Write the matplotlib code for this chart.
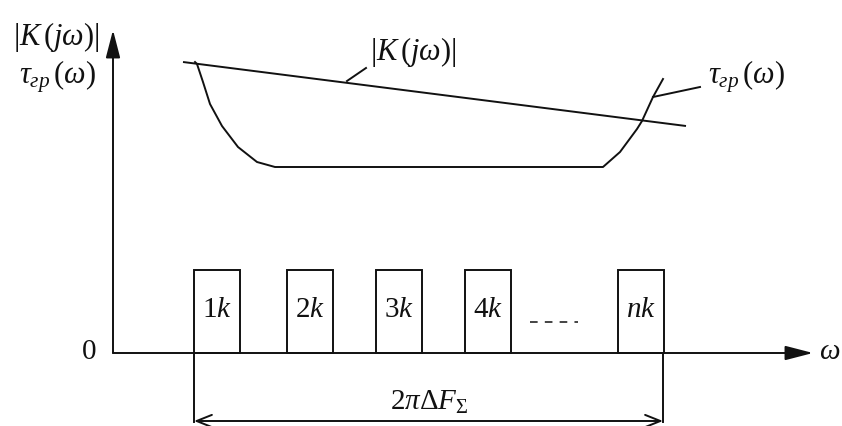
import matplotlib
matplotlib.use("Agg")
import matplotlib.pyplot as plt
from matplotlib.patches import Rectangle

plt.rcParams['font.family'] = ['Liberation Serif', 'DejaVu Serif']
plt.rcParams['mathtext.fontset'] = 'custom'
plt.rcParams['mathtext.rm'] = 'Liberation Serif'
plt.rcParams['mathtext.it'] = 'Liberation Serif:italic'
plt.rcParams['mathtext.bf'] = 'Liberation Serif:bold'

# channel boxes (left edge along omega, common width/height)
box_left = [81, 174, 263, 352, 505]
box_width = 46
box_height = 83
box_labels = [r'$1k$', r'$2k$', r'$3k$', r'$4k$', r'$nk$']

# |K(jw)| - straight falling line
k_x = [70, 573]
k_y = [291, 227]

# group delay tau(w)
tau_x = [82, 84, 90, 97, 109, 125, 144, 162, 490, 507, 524, 529, 540, 550]
tau_y = [291, 289, 271, 249, 227, 206, 191, 186, 186, 201, 224, 232, 256, 274]

# leader lines to the curve labels
k_lead_x = [234, 253]
k_lead_y = [272, 285]
tau_lead_x = [540, 587]
tau_lead_y = [256, 266]

# dots between 4k and nk
dots_x = [417, 465]
dots_y = [31, 31]

# axes extents
x_end = 700
y_end = 323
band_y = -68
band_x = [81, 550]

fig = plt.figure(figsize=(8.42, 4.27), dpi=100)
ax = fig.add_axes([0, 0, 1, 1])
ax.set_xlim(-113, 729)
ax.set_ylim(-73, 354)
ax.axis('off')

lw = 1.4
c = '#111111'

# axes with arrows
ax.annotate('', xy=(0, y_end), xytext=(0, 0),
            arrowprops=dict(arrowstyle='-|>,head_length=0.85,head_width=0.22',
                            color=c, lw=lw, mutation_scale=20,
                            shrinkA=0, shrinkB=0))
ax.annotate('', xy=(x_end, 0), xytext=(0, 0),
            arrowprops=dict(arrowstyle='-|>,head_length=0.85,head_width=0.22',
                            color=c, lw=lw, mutation_scale=20,
                            shrinkA=0, shrinkB=0))

# boxes
for left, lab in zip(box_left, box_labels):
    ax.add_patch(Rectangle((left, 0), box_width, box_height, fill=False,
                           ec=c, lw=lw))
    ax.text(left + box_width / 2, 44, lab, ha='center', va='center',
            fontsize=21, color=c)

ax.plot(dots_x, dots_y, color=c, lw=1.1, linestyle=(0, (5, 4.7)))

# curves
ax.plot(k_x, k_y, color=c, lw=lw, solid_capstyle='butt')
ax.plot(tau_x, tau_y, color=c, lw=lw, solid_joinstyle='round')
ax.plot(k_lead_x, k_lead_y, color=c, lw=lw)
ax.plot(tau_lead_x, tau_lead_y, color=c, lw=lw)

# dimension line for total band
for bx in band_x:
    ax.plot([bx, bx], [0, band_y - 1], color=c, lw=lw)
ax.annotate('', xy=(band_x[1], band_y), xytext=(band_x[0], band_y),
            arrowprops=dict(arrowstyle='<->,head_length=0.55,head_width=0.22',
                            color=c, lw=lw, mutation_scale=20,
                            shrinkA=0, shrinkB=0))

# texts
fs = 22
k_lab = r'$\left|K\,(j\omega)\right|$'
tau_lab = r'$\tau_{\mathit{гр}}\,(\omega)$'
ax.text(-57, 317, k_lab, ha='center', va='center', fontsize=fs, color=c)
ax.text(-56, 277, tau_lab, ha='center', va='center', fontsize=fs, color=c)
ax.text(300, 302, k_lab, ha='center', va='center', fontsize=fs, color=c)
ax.text(633, 277, tau_lab, ha='center', va='center', fontsize=fs, color=c)
ax.text(-24, 2, '0', ha='center', va='center', fontsize=21, color=c)
ax.text(717, 2, r'$\omega$', ha='center', va='center', fontsize=21, color=c)
ax.text(316, -48, r'$2\pi\Delta F_{\Sigma}$', ha='center', va='center',
        fontsize=21, color=c)

fig.savefig('out.png', dpi=100)
